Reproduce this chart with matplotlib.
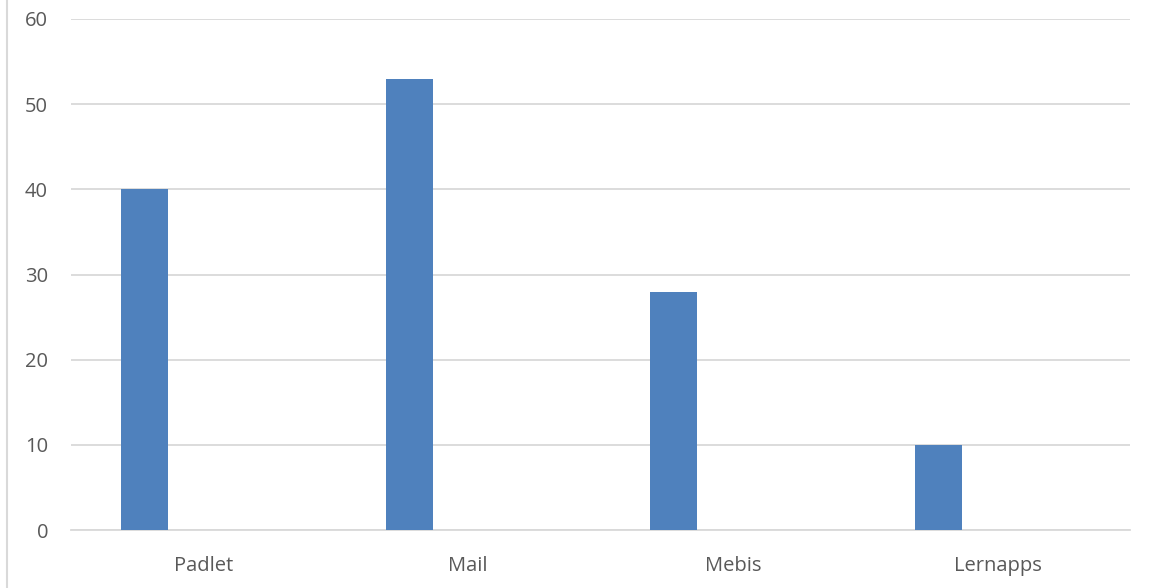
import matplotlib.pyplot as plt
from matplotlib.lines import Line2D
import numpy as np

categories = ['Padlet', 'Mail', 'Mebis', 'Lernapps']
values = [40, 53, 28, 10]
y_ticks = [0, 10, 20, 30, 40, 50, 60]

plt.rcParams['font.family'] = ['Open Sans', 'DejaVu Sans']

fig = plt.figure(figsize=(11.5, 5.88), dpi=100)
ax = fig.add_axes([71 / 1150, 1 - 530 / 588, (1130 - 71) / 1150, (530 - 19) / 588])

x = np.arange(len(categories))
# Balken sitzen links in der Kategorie (zweite Reihe leer)
ax.bar(x - 0.2225, values, width=0.1775, color='#4f81bd', zorder=3)

ax.set_xlim(-0.5, len(categories) - 0.5)
ax.set_ylim(0, 60)
ax.set_yticks(y_ticks)
ax.set_xticks(x)
ax.set_xticklabels(categories)

ax.grid(axis='y', color='#d9d9d9', linewidth=1.3, zorder=0)
for s in ['top', 'right', 'left']:
    ax.spines[s].set_visible(False)
ax.spines['bottom'].set_color('#d9d9d9')
ax.spines['bottom'].set_linewidth(1.3)
ax.tick_params(axis='both', length=0, labelsize=14.5, labelcolor='#595959')
ax.tick_params(axis='y', pad=16.5)
ax.tick_params(axis='x', pad=18.5)

# Rahmenlinie links
fig.add_artist(Line2D([7 / 1150, 7 / 1150], [0, 1], color='#d9d9d9', linewidth=1.5))

fig.savefig('out.png', dpi=100)
